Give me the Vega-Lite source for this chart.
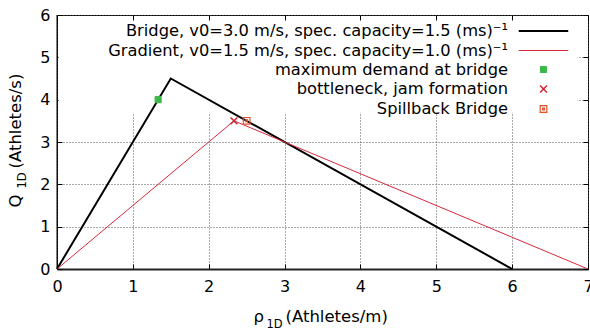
{
  "$schema": "https://vega.github.io/schema/vega-lite/v6.json",
  "width": 531,
  "height": 254,
  "autosize": {"type": "none"},
  "padding": {"left": 57, "top": 15, "right": 2, "bottom": 60},
  "background": "white",
  "config": {
    "font": "DejaVu Sans",
    "view": {"stroke": "black", "strokeWidth": 1},
    "axis": {
      "labelFont": "DejaVu Sans", "labelFontSize": 16, "labelColor": "black",
      "titleFont": "DejaVu Sans", "titleFontSize": 16.5, "titleFontWeight": "normal", "titleColor": "black",
      "tickColor": "black", "domain": false, "labelFlush": false, "labelOverlap": false,
      "gridColor": "#555", "gridDash": [1, 2], "gridWidth": 1, "gridOpacity": 1
    },
    "legend": {
      "orient": "none", "legendX": 476.5, "legendY": 6, "padding": 0,
      "rowPadding": 1, "symbolSize": 324,
      "labelAlign": "right", "labelOffset": -45.5, "labelFont": "DejaVu Sans",
      "labelFontSize": 16.3, "labelColor": "black", "labelLimit": 700,
      "symbolOpacity": 1, "title": null
    }
  },
  "datasets": {
    "lines": [
      {"series": "Bridge, v0=3.0 m/s, spec. capacity=1.5 (ms)⁻¹", "rho": 0, "q": 0},
      {"series": "Bridge, v0=3.0 m/s, spec. capacity=1.5 (ms)⁻¹", "rho": 1.5, "q": 4.5},
      {"series": "Bridge, v0=3.0 m/s, spec. capacity=1.5 (ms)⁻¹", "rho": 6, "q": 0},
      {"series": "Gradient, v0=1.5 m/s, spec. capacity=1.0 (ms)⁻¹", "rho": 0, "q": 0},
      {"series": "Gradient, v0=1.5 m/s, spec. capacity=1.0 (ms)⁻¹", "rho": 2.333, "q": 3.5},
      {"series": "Gradient, v0=1.5 m/s, spec. capacity=1.0 (ms)⁻¹", "rho": 7, "q": 0}
    ],
    "points": [
      {"series": "maximum demand at bridge", "rho": 1.333, "q": 4.0},
      {"series": "bottleneck, jam formation", "rho": 2.333, "q": 3.5},
      {"series": "Spillback Bridge", "rho": 2.5, "q": 3.5}
    ]
  },
  "layer": [
    {
      "data": {"values": [{}]},
      "mark": {"type": "rect", "fill": "white"},
      "encoding": {
        "x": {"datum": 0.02, "type": "quantitative",
          "scale": {"domain": [0, 7], "nice": false, "zero": false},
          "axis": {"orient": "bottom", "values": [0, 1, 2, 3, 4, 5, 6, 7], "format": "d",
            "grid": true, "tickSize": -5, "labelPadding": 14,
            "domain": true, "domainColor": "#222", "domainWidth": 2,
            "title": "ρ", "titleAlign": "left", "titleBaseline": "alphabetic",
            "titleX": 196, "titleY": 52}},
        "x2": {"datum": 6.86},
        "y": {"datum": 3.69, "type": "quantitative",
          "scale": {"domain": [0, 6], "nice": false, "zero": false},
          "axis": {"orient": "left", "values": [0, 1, 2, 3, 4, 5, 6], "format": "d",
            "grid": true, "tickSize": -5, "labelPadding": 12,
            "title": "Q", "titleAngle": 270, "titleAlign": "left", "titleBaseline": "alphabetic",
            "titleX": -37, "titleY": 192}},
        "y2": {"datum": 5.97}
      }
    },
    {
      "data": {"name": "lines"},
      "mark": {"type": "line"},
      "encoding": {
        "x": {"field": "rho", "type": "quantitative",
          "scale": {"domain": [0, 7], "nice": false, "zero": false},
          "axis": {"orient": "top", "values": [0, 1, 2, 3, 4, 5, 6, 7], "labels": false,
            "grid": false, "tickSize": -5, "title": null, "zindex": 1}},
        "y": {"field": "q", "type": "quantitative",
          "scale": {"domain": [0, 6], "nice": false, "zero": false},
          "axis": {"orient": "right", "values": [0, 1, 2, 3, 4, 5, 6], "labels": false,
            "grid": false, "tickSize": -5, "title": null, "zindex": 1}},
        "stroke": {"field": "series", "type": "nominal",
          "scale": {
            "domain": ["Bridge, v0=3.0 m/s, spec. capacity=1.5 (ms)⁻¹", "Gradient, v0=1.5 m/s, spec. capacity=1.0 (ms)⁻¹", "maximum demand at bridge", "bottleneck, jam formation", "Spillback Bridge"],
            "range": ["#000000", "#d8283a", "#3cb84a", "#d42030", "#e8502a"]}},
        "strokeWidth": {"field": "series", "type": "nominal",
          "scale": {"type": "ordinal",
            "domain": ["Bridge, v0=3.0 m/s, spec. capacity=1.5 (ms)⁻¹", "Gradient, v0=1.5 m/s, spec. capacity=1.0 (ms)⁻¹", "maximum demand at bridge", "bottleneck, jam formation", "Spillback Bridge"],
            "range": [2, 1, 1, 1.5, 1.2]}}
      }
    },
    {
      "data": {"name": "points"},
      "mark": {"type": "point", "filled": true, "opacity": 1, "size": 324},
      "encoding": {
        "x": {"field": "rho", "type": "quantitative",
          "scale": {"domain": [0, 7], "nice": false, "zero": false},
          "axis": {"orient": "bottom", "labels": false, "ticks": false, "grid": false, "domain": false,
            "title": "1D", "titleFontSize": 11.5, "titleAlign": "left", "titleBaseline": "alphabetic",
            "titleX": 209, "titleY": 58}},
        "y": {"field": "q", "type": "quantitative",
          "scale": {"domain": [0, 6], "nice": false, "zero": false},
          "axis": {"orient": "left", "labels": false, "ticks": false, "grid": false, "domain": false,
            "title": "1D", "titleFontSize": 11.5, "titleAngle": 270, "titleAlign": "left", "titleBaseline": "alphabetic",
            "titleX": -32, "titleY": 173}},
        "stroke": {"field": "series", "type": "nominal",
          "scale": {
            "domain": ["Bridge, v0=3.0 m/s, spec. capacity=1.5 (ms)⁻¹", "Gradient, v0=1.5 m/s, spec. capacity=1.0 (ms)⁻¹", "maximum demand at bridge", "bottleneck, jam formation", "Spillback Bridge"],
            "range": ["#000000", "#d8283a", "#3cb84a", "#d42030", "#e8502a"]}},
        "strokeWidth": {"field": "series", "type": "nominal",
          "scale": {"type": "ordinal",
            "domain": ["Bridge, v0=3.0 m/s, spec. capacity=1.5 (ms)⁻¹", "Gradient, v0=1.5 m/s, spec. capacity=1.0 (ms)⁻¹", "maximum demand at bridge", "bottleneck, jam formation", "Spillback Bridge"],
            "range": [2, 1, 1, 1.5, 1.2]}},
        "fill": {"field": "series", "type": "nominal",
          "scale": {
            "domain": ["Bridge, v0=3.0 m/s, spec. capacity=1.5 (ms)⁻¹", "Gradient, v0=1.5 m/s, spec. capacity=1.0 (ms)⁻¹", "maximum demand at bridge", "bottleneck, jam formation", "Spillback Bridge"],
            "range": ["transparent", "transparent", "#3cb84a", "transparent", "transparent"]}},
        "shape": {"field": "series", "type": "nominal",
          "scale": {
            "domain": ["Bridge, v0=3.0 m/s, spec. capacity=1.5 (ms)⁻¹", "Gradient, v0=1.5 m/s, spec. capacity=1.0 (ms)⁻¹", "maximum demand at bridge", "bottleneck, jam formation", "Spillback Bridge"],
            "range": ["M-2.75,0H2.75", "M-2.75,0H2.75", "M-0.34,-0.34H0.34V0.34H-0.34Z", "M-0.38,-0.38L0.38,0.38M0.38,-0.38L-0.38,0.38", "M-0.37,-0.37H0.37V0.37H-0.37Z M-0.1,-0.1H0.1V0.1H-0.1Z"]}}
      }
    },
    {
      "data": {"values": [{}]},
      "mark": {"type": "rule", "color": "black", "strokeWidth": 1},
      "encoding": {
        "x": {"datum": 0, "type": "quantitative",
          "scale": {"domain": [0, 7], "nice": false, "zero": false},
          "axis": {"orient": "bottom", "labels": false, "ticks": false, "grid": false, "domain": false,
            "title": "(Athletes/m)", "titleAlign": "left", "titleBaseline": "alphabetic",
            "titleX": 228, "titleY": 52}},
        "y": {"datum": 0, "type": "quantitative",
          "scale": {"domain": [0, 6], "nice": false, "zero": false},
          "axis": {"orient": "left", "labels": false, "ticks": false, "grid": false, "domain": false,
            "title": "(Athletes/s)", "titleAngle": 270, "titleAlign": "left", "titleBaseline": "alphabetic",
            "titleX": -37, "titleY": 153}},
        "y2": {"datum": 6}
      }
    }
  ],
  "resolve": {"axis": {"x": "independent", "y": "independent"}}
}
